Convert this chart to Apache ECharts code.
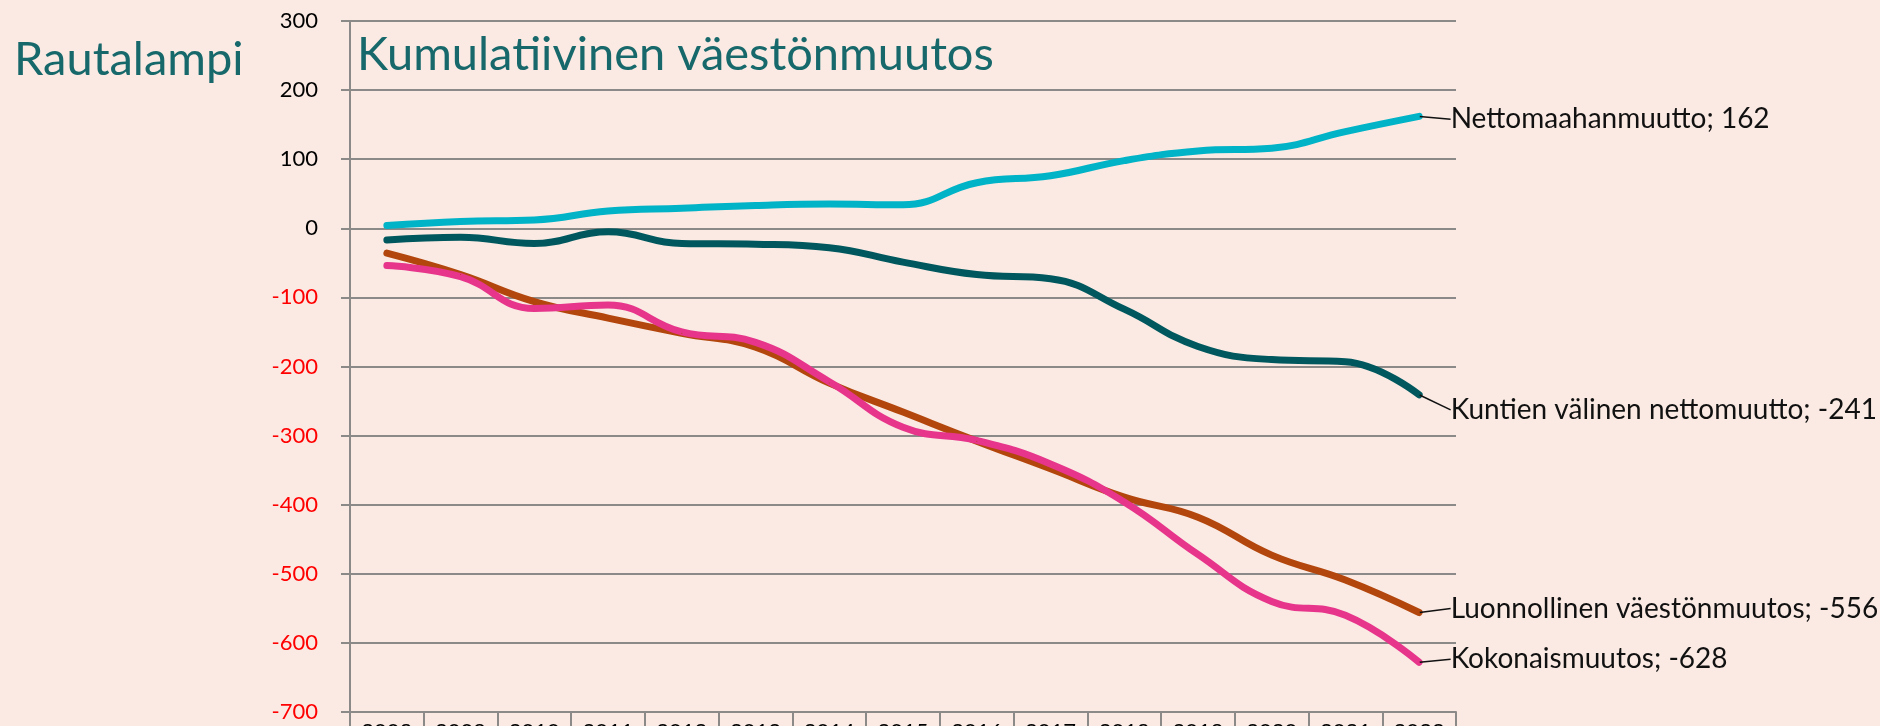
<!DOCTYPE html>
<html>
<head>
<meta charset="utf-8">
<title>Rautalampi</title>
<script src="https://cdn.jsdelivr.net/npm/echarts@6/dist/echarts.min.js"></script>
<style>
html, body { margin: 0; padding: 0; background: #faeae3; }
#chart { width: 1880px; height: 726px; }
</style>
</head>
<body>
<div id="chart"></div>
<script>
// vuodet ja kumulatiiviset muutokset (luettu kuvasta)
var vuodet = ['2008', '2009', '2010', '2011', '2012', '2013', '2014', '2015',
	'2016', '2017', '2018', '2019', '2020', '2021', '2022'];
var nettomaahanmuutto = [4, 10, 12, 25, 29, 33, 35, 34, 66, 76, 98, 112, 116, 140, 162];
var kuntienValinen = [-17, -13, -22, -5, -22, -23, -28, -49, -67, -73, -117, -171, -190, -193, -241];
var luonnollinen = [-36, -67, -106, -130, -152, -172, -224, -266, -308, -348, -389, -418, -473, -509, -556];
var kokonaismuutos = [-54, -70, -116, -111, -150, -165, -222, -288, -307, -341, -396, -472, -540, -560, -628];
var yMin = -700, yMax = 300, yStep = 100;

var chart = echarts.init(document.getElementById('chart'));
var fontti = 'Lato';
var harmaa = '#8c8a88';

// loppupisteen nimen siirto pystysuunnassa
function sarja(nimi, data, vari, dy) {
	var last = data.length - 1;
	return {
		name: nimi,
		type: 'line',
		smooth: 0.45,
		symbol: 'circle',
		symbolSize: 1,
		showSymbol: true,
		data: data.map(function (v, i) {
			if (i != last) return v;
			return {
				value: v,
				label: { show: true, formatter: nimi + '; ' + v },
				labelLine: { show: true }
			};
		}),
		lineStyle: { width: 7, color: vari, cap: 'round' },
		itemStyle: { color: vari },
		label: {
			show: false,
			position: 'right',
			distance: 31,
			color: '#111',
			fontFamily: fontti,
			fontSize: 28
		},
		labelLine: { lineStyle: { color: '#111', width: 1.5 } },
		labelLayout: function (p) {
			var sx = p.rect.x + p.rect.width / 2;
			var sy = p.rect.y + p.rect.height / 2;
			var ly = p.labelRect.y + p.labelRect.height / 2 + dy;
			var lx = p.labelRect.x - 6;
			return {
				dy: dy,
				labelLinePoints: [[sx + 1, sy], [sx + 8, ly], [lx, ly]]
			};
		},
		emphasis: { disabled: true }
	};
}

var option = {
	backgroundColor: '#faeae3',
	animation: false,
	title: [{
		text: 'Rautalampi',
		left: 14,
		top: 36,
		padding: 0,
		textStyle: { color: '#17686b', fontFamily: fontti, fontWeight: 'normal', fontSize: 47 }
	}, {
		text: 'Kumulatiivinen väestönmuutos',
		left: 357,
		top: 31,
		padding: 0,
		textStyle: { color: '#17686b', fontFamily: fontti, fontWeight: 'normal', fontSize: 47 }
	}],
	grid: { left: 350, right: 424, top: 21, bottom: 14, containLabel: false, outerBoundsMode: 'none' },
	xAxis: {
		type: 'category',
		data: vuodet,
		boundaryGap: true,
		axisLine: { onZero: false, lineStyle: { color: harmaa, width: 2 } },
		axisTick: { show: true, interval: 0, length: 22, lineStyle: { color: harmaa, width: 2 } },
		axisLabel: { interval: 0, margin: 9, color: '#000', fontFamily: fontti, fontSize: 22 },
		splitLine: { show: false }
	},
	yAxis: {
		type: 'value',
		min: yMin,
		max: yMax,
		interval: yStep,
		axisLine: { show: true, lineStyle: { color: harmaa, width: 2 } },
		axisTick: { show: true, length: 9, lineStyle: { color: harmaa, width: 2 } },
		axisLabel: {
			margin: 32,
			fontFamily: fontti,
			fontSize: 22,
			color: function (v) { return v < 0 ? '#ff0000' : '#000000'; }
		},
		splitLine: { lineStyle: { color: harmaa, width: 2 } }
	},
	series: [
		sarja('Nettomaahanmuutto', nettomaahanmuutto, '#00b3c7', 3),
		sarja('Kuntien välinen nettomuutto', kuntienValinen, '#00585e', 15),
		sarja('Luonnollinen väestönmuutos', luonnollinen, '#b3460c', -4),
		sarja('Kokonaismuutos', kokonaismuutos, '#e6358a', -3)
	]
};
chart.setOption(option);
</script>
</body>
</html>
